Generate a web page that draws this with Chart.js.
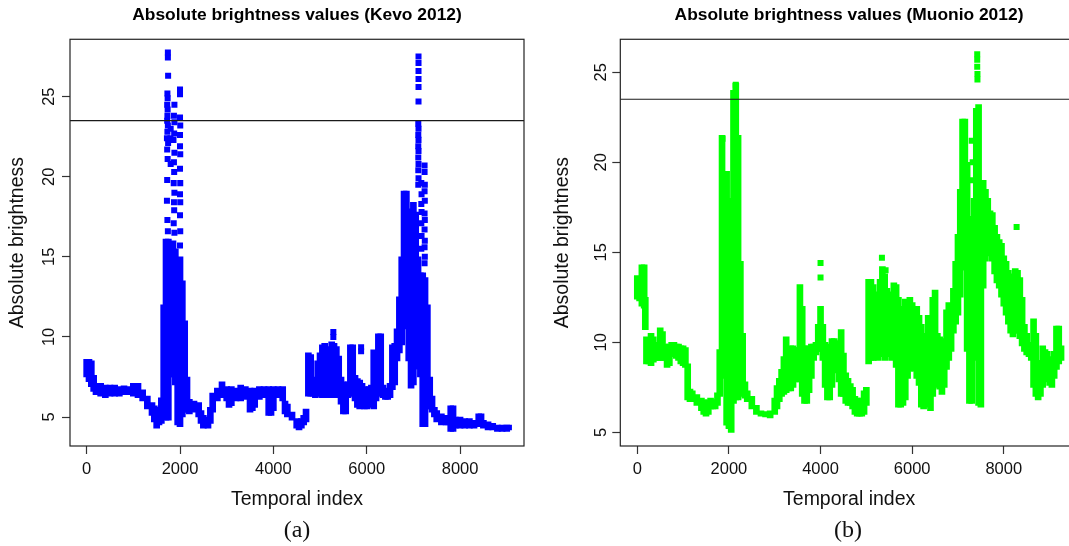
<!DOCTYPE html>
<html>
<head>
<meta charset="utf-8">
<title>Absolute brightness values</title>
<script src="https://cdn.jsdelivr.net/npm/chart.js@4.4.1/dist/chart.umd.min.js"></script>
<style>
  html, body { margin: 0; padding: 0; background: #fff; }
  body { width: 1069px; height: 546px; overflow: hidden; position: relative; }
  .panel { position: absolute; top: 0; }
  .cap {
    position: absolute; top: 514px; width: 80px; height: 30px; line-height: 30px;
    text-align: center; color: #111;
    font-family: "Liberation Serif", "Times New Roman", serif; font-size: 24px;
  }
</style>
</head>
<body>
<div class="panel" style="left:0"><canvas id="chartKevo" width="594" height="546"></canvas></div>
<div class="panel" style="left:535px"><canvas id="chartMuonio" width="628" height="546"></canvas></div>
<div class="cap" style="left:257px">(a)</div>
<div class="cap" style="left:808px">(b)</div>

<script>
'use strict';

// ─── Ejes comunes ─────────────────────────────────────────────────────────────
const X_TICKS = [0, 2000, 4000, 6000, 8000];
const Y_TICKS = [5, 10, 15, 20, 25];
const LIMITE  = 23.5;   // línea horizontal de umbral

// ─── Kevo 2012: banda (mín / máx visibles por índice) ────────────────────────
const kevoIdx = [
    0, 50, 100, 150, 200, 300, 400, 500, 600, 700,
    800, 900, 1000, 1100, 1200, 1300, 1400, 1450, 1500, 1550,
    1600, 1650, 1700, 1750, 1800, 1850, 1900, 1950, 2000, 2050,
    2100, 2150, 2200, 2300, 2400, 2450, 2500, 2600, 2650, 2700,
    2800, 2900, 3000, 3050, 3100, 3200, 3300, 3400, 3500, 3550,
    3600, 3700, 3800, 3900, 3950, 4000, 4100, 4200, 4250, 4300,
    4400, 4500, 4550, 4600, 4650, 4700, 4750, 4800, 4850, 4900,
    4950, 5000, 5050, 5100, 5150, 5200, 5250, 5300, 5350, 5400,
    5450, 5500, 5550, 5600, 5650, 5700, 5750, 5800, 5850, 5900,
    5950, 6000, 6050, 6100, 6150, 6200, 6250, 6300, 6350, 6400,
    6450, 6500, 6550, 6600, 6650, 6700, 6750, 6800, 6850, 6900,
    6950, 7000, 7050, 7100, 7150, 7200, 7250, 7300, 7350, 7400,
    7450, 7500, 7600, 7700, 7750, 7800, 7850, 7900, 8000, 8100,
    8200, 8300, 8400, 8450, 8500, 8600, 8700, 8800, 8900, 9000,
    9040
];
const kevoLow = [
    7.5, 7.2, 6.9, 6.6, 6.4, 6.3, 6.2, 6.3, 6.3, 6.3,
    6.4, 6.4, 6.3, 6.2, 6.0, 5.5, 5.1, 4.7, 4.3, 4.5,
    4.6, 5.0, 4.8, 4.8, 7.5, 7.5, 7.0, 4.5, 4.4, 5.0,
    5.3, 5.3, 5.2, 5.3, 5.0, 4.6, 4.3, 4.3, 4.6, 5.3,
    6.0, 6.2, 6.0, 5.6, 5.7, 6.0, 6.0, 6.1, 5.3, 5.4,
    5.6, 6.1, 6.2, 5.1, 5.1, 5.4, 6.2, 6.0, 5.2, 5.0,
    4.8, 4.3, 4.2, 4.3, 4.5, 4.7, 6.3, 6.3, 6.3, 6.2,
    6.3, 6.3, 6.2, 6.2, 6.2, 6.2, 6.3, 6.2, 6.3, 6.2,
    5.8, 5.2, 5.2, 6.2, 6.3, 6.3, 6.0, 5.6, 5.5, 5.8,
    5.5, 5.5, 5.8, 5.6, 5.5, 6.0, 6.3, 6.3, 6.2, 6.1,
    6.1, 6.2, 6.7, 7.0, 8.5, 9.0, 9.5, 10.5, 12.0, 8.5,
    6.8, 7.0, 8.0, 8.0, 7.5, 4.4, 4.4, 5.5, 5.5, 5.3,
    5.0, 4.7, 4.5, 4.5, 4.5, 4.1, 4.1, 4.3, 4.3, 4.3,
    4.3, 4.3, 4.4, 4.4, 4.3, 4.2, 4.2, 4.1, 4.1, 4.1,
    4.2
];
const kevoHigh = [
    8.6, 8.6, 8.5, 7.6, 7.1, 7.1, 7.0, 7.0, 7.0, 6.9,
    6.95, 6.9, 7.1, 7.1, 6.7, 6.3, 5.9, 5.7, 5.5, 5.6,
    6.2, 12.0, 16.1, 16.1, 15.8, 16.0, 15.5, 14.5, 15.0, 13.5,
    11.0, 7.5, 6.1, 6.0, 5.9, 5.4, 5.1, 5.0, 5.6, 6.5,
    6.8, 7.2, 6.9, 6.8, 6.9, 6.8, 7.0, 6.9, 6.8, 6.7,
    6.8, 6.9, 6.9, 6.9, 6.7, 6.9, 6.9, 6.9, 6.0, 5.8,
    5.3, 4.9, 4.7, 4.9, 5.1, 5.5, 9.0, 8.9, 7.4, 7.5,
    8.5, 9.0, 9.5, 9.6, 9.4, 9.3, 9.7, 9.6, 9.4, 8.8,
    7.5, 7.2, 7.0, 7.2, 9.5, 9.5, 7.6, 7.4, 7.3, 7.1,
    6.9, 6.8, 6.9, 7.0, 9.2, 9.0, 10.2, 10.2, 7.0, 6.7,
    6.8, 7.1, 9.5, 9.6, 10.5, 12.5, 15.0, 19.1, 19.1, 18.0,
    12.0, 18.4, 17.8, 15.0, 14.0, 14.0, 13.7, 12.0, 7.5, 6.3,
    5.6, 5.4, 5.2, 5.1, 5.1, 5.7, 5.7, 5.0, 5.0, 4.9,
    4.9, 4.8, 5.2, 5.2, 4.8, 4.7, 4.6, 4.5, 4.5, 4.5,
    4.5
];
// Puntos sueltos (picos)
const kevoSpotIdx = [
    1740, 1740, 1745, 1730, 1735, 1725, 1735, 1730, 1725, 1740, 1730, 1720, 1745, 1725, 1735, 1725, 1720, 1730, 1740,
    1880, 1870, 1880, 1875, 1860, 1880, 1870, 1875, 1865, 1880, 1870, 1875, 1865, 1880, 1800, 1795, 1800,
    2000, 2000, 2000, 2005, 2000, 2000, 2005, 2000, 2005, 2000, 2005, 2000, 2005, 2000,
    5285, 5285, 5880, 5880,
    7110, 7110, 7110, 7110, 7110, 7110, 7105, 7110, 7105, 7110, 7105, 7110, 7105, 7110, 7105, 7110, 7105,
    7240, 7240, 7245, 7240, 7245, 7240, 7245, 7240, 7245, 7240, 7245, 7240,
    7170, 7175, 7170, 7175, 7170, 7175, 7170
];
const kevoSpotVal = [
    27.75, 27.45, 26.3, 25.2, 24.9, 24.5, 24.2, 23.8, 23.5, 23.2, 22.8, 22.4, 22.1, 21.7, 21.1, 19.8, 18.5, 17.3, 16.6,
    24.5, 23.8, 23.4, 22.7, 22.3, 21.5, 20.9, 20.3, 19.6, 19.0, 18.4, 17.9, 17.1, 16.5, 23.0, 22.4, 20.8,
    25.45, 25.15, 23.7, 23.2, 22.6, 21.9, 21.4, 20.5, 19.6, 18.9, 18.4, 17.6, 16.6, 15.7,
    10.3, 10.0, 9.1, 9.35,
    27.5, 27.1, 26.6, 26.1, 25.6, 24.7, 23.3, 23.0, 22.6, 22.3, 21.9, 21.6, 21.2, 20.8, 20.4, 19.9, 19.5,
    20.7, 20.3, 19.5, 19.1, 18.5, 17.7, 17.3, 16.7, 16.0, 15.6, 15.0, 14.6,
    19.6, 18.9, 18.3, 17.8, 17.1, 16.3, 15.5
];

// ─── Muonio 2012 ──────────────────────────────────────────────────────────────
const muonioIdx = [
    0, 50, 100, 150, 175, 200, 250, 300, 350, 400,
    450, 500, 550, 600, 650, 700, 750, 800, 850, 900,
    950, 1000, 1050, 1100, 1150, 1200, 1300, 1400, 1450, 1500,
    1550, 1600, 1650, 1700, 1750, 1800, 1850, 1900, 1950, 2000,
    2050, 2100, 2150, 2200, 2250, 2300, 2350, 2400, 2500, 2600,
    2700, 2800, 2900, 3000, 3050, 3100, 3150, 3200, 3250, 3300,
    3350, 3400, 3450, 3500, 3550, 3600, 3650, 3700, 3750, 3800,
    3850, 3900, 3950, 4000, 4050, 4100, 4150, 4200, 4250, 4300,
    4350, 4400, 4450, 4500, 4550, 4600, 4650, 4700, 4750, 4800,
    4850, 4900, 4950, 5000, 5050, 5100, 5150, 5200, 5250, 5300,
    5350, 5400, 5450, 5500, 5550, 5600, 5650, 5700, 5750, 5800,
    5850, 5900, 5950, 6000, 6050, 6100, 6150, 6200, 6250, 6300,
    6350, 6400, 6450, 6500, 6550, 6600, 6650, 6700, 6750, 6800,
    6850, 6900, 6950, 7000, 7050, 7100, 7150, 7200, 7250, 7300,
    7350, 7400, 7450, 7500, 7550, 7600, 7650, 7700, 7750, 7800,
    7850, 7900, 7950, 8000, 8050, 8100, 8150, 8200, 8250, 8300,
    8350, 8400, 8450, 8500, 8550, 8600, 8650, 8700, 8750, 8800,
    8850, 8900, 8950, 9000, 9050, 9100, 9150, 9200, 9250
];
const muonioLow = [
    12.4, 12.3, 12.0, 11.9, 10.7, 8.8, 8.8, 8.7, 8.9, 9.0,
    9.0, 9.0, 9.0, 9.0, 8.6, 8.7, 9.2, 9.2, 9.1, 9.0,
    8.8, 8.7, 8.6, 6.8, 6.7, 6.7, 6.5, 6.2, 6.0, 5.9,
    6.0, 6.3, 6.3, 6.3, 6.5, 7.0, 9.5, 8.0, 5.4, 5.2,
    5.0, 6.6, 6.8, 6.8, 7.0, 7.1, 6.9, 6.7, 6.3, 6.0,
    5.9, 5.85, 5.8, 6.0, 6.3, 6.7, 7.0, 7.1, 7.2, 7.3,
    7.3, 7.5, 7.8, 8.0, 7.8, 7.0, 6.6, 6.6, 7.2, 8.0,
    9.0, 9.3, 9.5, 9.5, 9.0, 7.5, 6.8, 6.8, 7.5, 8.5,
    8.3, 7.8, 7.0, 7.0, 6.6, 6.5, 6.5, 6.3, 6.0, 5.9,
    5.9, 5.9, 6.0, 6.5, 8.8, 9.0, 9.0, 9.2, 9.0, 9.2,
    9.2, 9.0, 9.3, 9.2, 9.0, 9.5, 8.6, 6.4, 6.4, 6.5,
    6.8, 8.0, 8.4, 8.5, 8.4, 8.0, 7.6, 6.4, 6.3, 8.0,
    6.4, 6.2, 7.0, 7.5, 8.0, 7.4, 7.1, 7.5, 8.5, 9.0,
    9.5, 10.5, 11.0, 11.5, 12.5, 14.0, 15.0, 9.5, 6.6, 6.6,
    9.0, 10.5, 6.5, 6.4, 13.0, 14.5, 15.0, 14.8, 14.5, 13.8,
    13.3, 13.0, 12.5, 12.0, 11.5, 11.0, 10.5, 10.3, 10.5, 10.5,
    10.2, 9.8, 9.5, 9.3, 9.2, 9.0, 7.5, 7.0, 6.8, 7.0,
    7.5, 7.8, 8.0, 7.6, 7.5, 8.0, 8.5, 8.8, 9.0
];
const muonioHigh = [
    13.7, 13.5, 14.3, 14.3, 12.5, 10.3, 10.0, 10.5, 10.3, 10.0,
    10.0, 10.8, 10.6, 9.9, 9.8, 9.9, 10.0, 10.0, 9.9, 9.9,
    9.8, 9.8, 9.7, 8.8, 7.4, 7.3, 7.1, 6.9, 6.8, 6.7,
    6.8, 6.9, 6.8, 6.8, 7.2, 9.6, 21.5, 19.0, 19.5, 18.0,
    17.5, 24.0, 24.4, 21.5, 14.5, 10.5, 7.8, 7.3, 7.0, 6.5,
    6.2, 6.15, 6.2, 6.9, 7.6, 8.0, 8.5, 9.2, 10.3, 9.6,
    9.8, 9.8, 9.7, 9.7, 13.2, 12.0, 9.8, 9.8, 9.7, 9.9,
    9.9, 10.0, 11.0, 12.0, 11.0, 10.0, 9.7, 9.9, 10.2, 10.2,
    10.0, 10.1, 10.7, 9.4, 8.3, 8.0, 7.7, 7.5, 7.0, 6.9,
    6.6, 6.9, 7.3, 7.5, 13.5, 13.5, 13.2, 12.5, 12.8, 13.5,
    14.2, 13.8, 13.0, 12.8, 12.6, 13.3, 13.2, 12.5, 10.5, 12.0,
    12.4, 12.0, 12.5, 12.2, 11.8, 12.0, 11.5, 11.0, 9.5, 10.5,
    11.5, 11.0, 12.5, 12.9, 10.5, 10.3, 9.8, 10.2, 11.8, 12.2,
    12.0, 13.0, 14.5, 16.0, 18.5, 22.4, 22.4, 20.0, 17.0, 15.5,
    18.0, 23.0, 23.2, 19.0, 19.0, 18.5, 18.0, 17.3, 17.2, 16.5,
    16.0, 15.7, 15.5, 14.8, 14.5, 14.0, 13.8, 13.5, 14.1, 14.0,
    13.6, 12.5, 11.0, 10.5, 10.0, 10.0, 11.3, 10.5, 9.0, 8.8,
    9.8, 9.6, 9.5, 9.2, 9.0, 9.5, 10.9, 10.9, 9.8
];
const muonioSpotIdx = [4000, 4000, 5340, 5420, 8280, 7420, 7420, 7420, 7425, 7425, 7300, 7320, 7290, 2150, 1860];
const muonioSpotVal = [14.4, 13.6, 14.7, 14.0, 16.4, 26.0, 25.7, 25.3, 24.9, 24.6, 21.2, 20.0, 19.0, 24.3, 21.3];

// ─── Estilo ───────────────────────────────────────────────────────────────────
Chart.defaults.font.family = '"Liberation Sans", Arial, Helvetica, sans-serif';
Chart.defaults.color = '#111';

const marcoPlugin = {
    id: 'marco',
    afterDatasetsDraw(chart) {
        const a = chart.chartArea;
        const c = chart.ctx;
        c.save();
        c.strokeStyle = '#222';
        c.lineWidth = 1.2;
        c.strokeRect(a.left, a.top, a.right - a.left, a.bottom - a.top);
        c.restore();
    },
};

// ─── Crear un panel ───────────────────────────────────────────────────────────
function crearPanel(canvasId, p) {
    const bandas = p.idx.map(function (x, i) { return { x: x, y: [p.low[i], p.high[i]] }; });
    const puntos = p.spotIdx.map(function (x, i) { return { x: x, y: p.spotVal[i] }; });
    const ctx = document.getElementById(canvasId).getContext('2d');

    return new Chart(ctx, {
        type: 'scatter',
        data: {
            datasets: [
                {
                    type: 'line',
                    data: [{ x: p.xMin, y: LIMITE }, { x: p.xMax, y: LIMITE }],
                    borderColor: '#1a1a1a',
                    borderWidth: 1.2,
                    pointRadius: 0,
                    fill: false,
                },
                {
                    type: 'scatter',
                    data: puntos,
                    pointStyle: 'rect',
                    pointRadius: 4.25,
                    pointHoverRadius: 4.25,
                    backgroundColor: p.color,
                    borderWidth: 0,
                },
                {
                    type: 'bar',
                    data: bandas,
                    backgroundColor: p.color,
                    barThickness: 6,
                    borderWidth: 0,
                    borderSkipped: false,
                },
            ],
        },
        options: {
            responsive: false,
            animation: false,
            devicePixelRatio: 1,
            layout: { padding: 0 },
            plugins: {
                legend: { display: false },
                tooltip: { enabled: false },
                title: {
                    display: true,
                    text: p.title,
                    color: '#000',
                    font: { size: 17.4, weight: 'bold', lineHeight: 1.2 },
                    padding: { top: 5.25, bottom: 13.15 },
                },
            },
            scales: {
                x: {
                    type: 'linear',
                    position: 'bottom',
                    min: p.xMin,
                    max: p.xMax,
                    offset: false,
                    afterBuildTicks: function (s) { s.ticks = X_TICKS.map(function (v) { return { value: v }; }); },
                    afterFit: function (s) { s.height = 100; },
                    ticks: {
                        font: { size: 16.5, lineHeight: 1.2 },
                        padding: 5.1,
                        minRotation: 0,
                        maxRotation: 0,
                        autoSkip: false,
                        callback: function (v) { return String(v); },
                    },
                    grid: { drawOnChartArea: false, tickLength: 8, tickColor: '#333', tickWidth: 1.2, offset: false },
                    border: { display: false },
                    title: {
                        display: true,
                        text: 'Temporal index',
                        font: { size: 19.5, lineHeight: 1.2 },
                        padding: { top: 0, bottom: 34.3 },
                    },
                },
                y: {
                    type: 'linear',
                    position: 'left',
                    min: p.yMin,
                    max: p.yMax,
                    afterBuildTicks: function (s) { s.ticks = Y_TICKS.map(function (v) { return { value: v }; }); },
                    afterFit: function (s) { s.width = p.axisWidth; },
                    ticks: {
                        font: { size: 16.5, lineHeight: 1.2 },
                        padding: p.tickPad,
                        minRotation: 90,
                        maxRotation: 90,
                        crossAlign: 'center',
                        autoSkip: false,
                        callback: function (v) { return String(v); },
                    },
                    grid: { drawOnChartArea: false, tickLength: 8, tickColor: '#333', tickWidth: 1.2 },
                    border: { display: false },
                    title: {
                        display: true,
                        text: 'Absolute brightness',
                        font: { size: 19.5, lineHeight: 1.2 },
                        padding: { top: p.titlePad, bottom: 0 },
                    },
                },
                yDer: {
                    type: 'linear',
                    position: 'right',
                    afterFit: function (s) { s.width = p.rightWidth; },
                    ticks: { display: false },
                    grid: { display: false },
                    border: { display: false },
                },
            },
        },
        plugins: [marcoPlugin],
    });
}

crearPanel('chartKevo', {
    title: 'Absolute brightness values (Kevo 2012)',
    color: '#0000ff',
    idx: kevoIdx, low: kevoLow, high: kevoHigh,
    spotIdx: kevoSpotIdx, spotVal: kevoSpotVal,
    xMin: -357, xMax: 9370, yMin: 3.19, yMax: 28.58,
    axisWidth: 70, rightWidth: 70, tickPad: 3.3, titlePad: 5.6,
});

crearPanel('chartMuonio', {
    title: 'Absolute brightness values (Muonio 2012)',
    color: '#00ff00',
    idx: muonioIdx, low: muonioLow, high: muonioHigh,
    spotIdx: muonioSpotIdx, spotVal: muonioSpotVal,
    xMin: -371, xMax: 9620, yMin: 4.24, yMax: 26.83,
    axisWidth: 85.3, rightWidth: 85, tickPad: 1.4, titlePad: 15.7,
});
</script>
</body>
</html>
